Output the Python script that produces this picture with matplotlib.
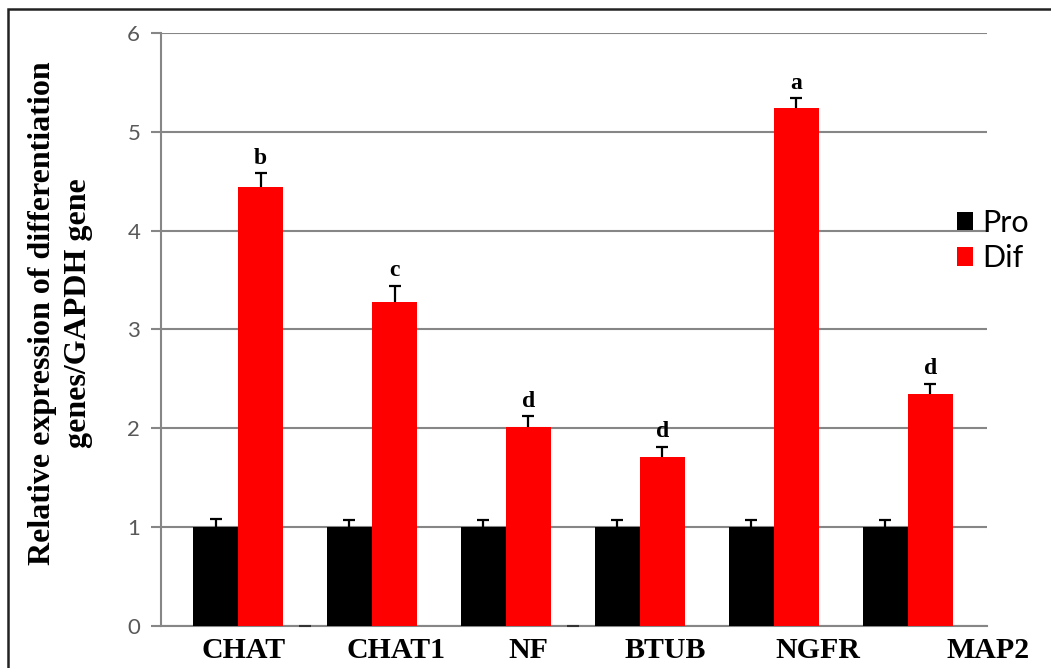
import matplotlib.pyplot as plt
from matplotlib.patches import Patch, Rectangle

# DATA
# =======================================
genes = ['CHAT', 'CHAT1', 'NF', 'BTUB', 'NGFR', 'MAP2']
pro_vals = [1.0, 1.0, 1.0, 1.0, 1.0, 1.0]
pro_err = [0.08, 0.07, 0.07, 0.07, 0.07, 0.07]
dif_vals = [4.44, 3.28, 2.01, 1.71, 5.24, 2.35]
dif_err = [0.14, 0.16, 0.11, 0.10, 0.10, 0.10]
letters = ['b', 'c', 'd', 'd', 'a', 'd']
# third (empty) series shows only as a tiny dash on the axis
third_vals = [0.0, 0.0]
third_groups = [0.5, 2.5]
# x label positions (the original labels were placed by hand)
label_x = [0.04, 1.18, 2.17, 3.19, 4.33, 5.60]

# PLOT
# =======================================
fig = plt.figure(figsize=(10.51, 6.68), dpi=100)
ax = fig.add_axes([0.1532, 0.0629, 0.7858, 0.8877])

w = 0.336
idx = list(range(len(genes)))
x_pro = [i - w / 2 for i in idx]
x_dif = [i + w / 2 for i in idx]

ax.bar(x_pro, pro_vals, width=w, color='black', zorder=3)
ax.bar(x_dif, dif_vals, width=w, color='#ff0000', zorder=3)

# upper error bars only (hide the lower cap)
for xs, vs, es in [(x_pro, pro_vals, pro_err), (x_dif, dif_vals, dif_err)]:
    _, caps, _ = ax.errorbar(xs, vs, yerr=[[0] * len(es), es], fmt='none',
                             ecolor='black', elinewidth=1.6, capsize=4,
                             capthick=1.6, zorder=4)
    caps[0].set_visible(False)

ax.plot(third_groups, third_vals, linestyle='none', marker='_',
        markersize=9, markeredgewidth=1.5, color='#333333', zorder=4, clip_on=False)

# significance letters
for x, v, e, t in zip(x_dif, dif_vals, dif_err, letters):
    ax.annotate(t, (x, v + e), xytext=(0, 7), textcoords='offset points',
                ha='center', va='baseline', fontsize=17, fontweight='bold',
                family='Liberation Serif')

ax.set_xlim(-0.575, 5.59)
ax.set_ylim(0, 6)
ax.set_yticks(range(7))
ax.set_yticklabels([str(v) for v in range(7)], family='Lato', fontsize=16, color='#595959')
ax.set_xticks([])
ax.tick_params(axis='y', length=7, width=1.5, color='#868686', pad=8)
ax.yaxis.grid(True, color='#868686', linewidth=1.5, zorder=0)
ax.set_axisbelow(True)
for s in ['top', 'right']:
    ax.spines[s].set_visible(False)
for s in ['left', 'bottom']:
    ax.spines[s].set_color('#868686')
    ax.spines[s].set_linewidth(1.5)

for x, g in zip(label_x, genes):
    ax.text(x, -0.042, g, transform=ax.get_xaxis_transform(), ha='center', va='center',
            fontsize=21.5, fontweight='bold', family='Liberation Serif')

ax.set_ylabel('Relative expression of differentiation\ngenes/GAPDH gene',
              fontsize=23, fontweight='bold', family='Liberation Serif',
              linespacing=1.35)
ax.yaxis.set_label_coords(-0.082, 0.528)

handles = [Patch(facecolor='black', label='Pro'), Patch(facecolor='#ff0000', label='Dif')]
ax.legend(handles=handles, loc='center left', bbox_to_anchor=(0.884, 0.64),
          bbox_transform=fig.transFigure, frameon=False, handlelength=0.55,
          handleheight=0.55, handletextpad=0.3, labelspacing=0.25,
          prop={'family': 'Lato', 'size': 22})

# figure frame
fig.add_artist(Rectangle((0.0076, -0.1), 1.2, 1.0866, transform=fig.transFigure,
                         fill=False, edgecolor='#222222', linewidth=1.8))

fig.savefig('out.png', dpi=100)
